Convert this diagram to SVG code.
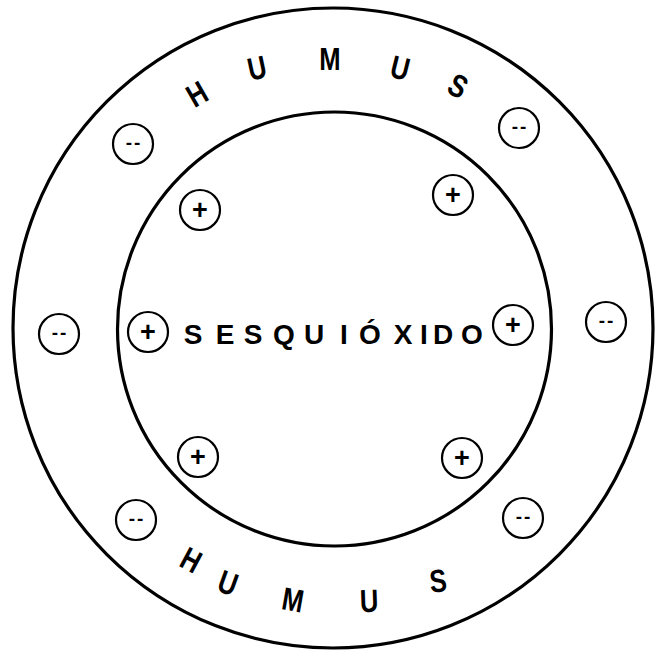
<svg xmlns="http://www.w3.org/2000/svg" width="667" height="651" viewBox="0 0 667 651">
  <style>
    .ring { fill: none; stroke: #000; stroke-width: 3.2; }
    .ion { fill: #fff; stroke: #000; stroke-width: 2.2; }
    .sign { font-family: "Liberation Sans", Arial, sans-serif; font-weight: bold; fill: #000; text-anchor: middle; }
    .plus { font-size: 27px; dominant-baseline: central; }
    .minus { font-size: 19px; letter-spacing: 2px; }
    .hum { font-family: "Liberation Sans", Arial, sans-serif; font-weight: bold; font-size: 32px; fill: #000; text-anchor: middle; }
    .core { font-family: "Liberation Sans", Arial, sans-serif; font-weight: bold; font-size: 28px; fill: #000; text-anchor: middle; }
  </style>
  <rect width="667" height="651" fill="#fff"/>

  <g id="humus-ring">
    <circle class="ring" cx="333" cy="328" r="320"/>
  </g>
  <g id="sesquioxido-core">
    <circle class="ring" cx="334.5" cy="329" r="217"/>
    <text class="core" y="344" x="193 225 253 284 314 344 370 403 424 443 472">SESQUIÓXIDO</text>
  </g>

  <g id="humus-top-label">
    <text class="hum" transform="translate(197,94) rotate(-30) scale(0.8,1)" y="11">H</text>
    <text class="hum" transform="translate(257,68) rotate(-12) scale(0.8,1)" y="11">U</text>
    <text class="hum" transform="translate(330,59) scale(0.8,1)" y="11">M</text>
    <text class="hum" transform="translate(400,68) rotate(14) scale(0.8,1)" y="11">U</text>
    <text class="hum" transform="translate(458,86) rotate(28) scale(0.8,1)" y="11">S</text>
  </g>
  <g id="humus-bottom-label">
    <text class="hum" transform="translate(191,560) rotate(28) scale(0.8,1)" y="11">H</text>
    <text class="hum" transform="translate(228,583) rotate(20) scale(0.8,1)" y="11">U</text>
    <text class="hum" transform="translate(293,600) rotate(10) scale(0.8,1)" y="11">M</text>
    <text class="hum" transform="translate(369,601) rotate(-2) scale(0.8,1)" y="11">U</text>
    <text class="hum" transform="translate(438,581) rotate(-6) scale(0.8,1)" y="11">S</text>
  </g>

  <g id="neg-tl"><circle class="ion" cx="133" cy="144" r="20"/><text class="sign minus" x="134" y="149">--</text></g>
  <g id="neg-tr"><circle class="ion" cx="519" cy="128" r="20"/><text class="sign minus" x="520" y="133">--</text></g>
  <g id="neg-l"><circle class="ion" cx="59" cy="334" r="20"/><text class="sign minus" x="60" y="339">--</text></g>
  <g id="neg-r"><circle class="ion" cx="606" cy="322" r="20"/><text class="sign minus" x="607" y="327">--</text></g>
  <g id="neg-bl"><circle class="ion" cx="136" cy="520" r="20"/><text class="sign minus" x="137" y="525">--</text></g>
  <g id="neg-br"><circle class="ion" cx="523" cy="518" r="20"/><text class="sign minus" x="524" y="523">--</text></g>

  <g id="pos-tl"><circle class="ion" cx="200" cy="210" r="20"/><text class="sign plus" x="200" y="210">+</text></g>
  <g id="pos-tr"><circle class="ion" cx="453" cy="195" r="20"/><text class="sign plus" x="453" y="195">+</text></g>
  <g id="pos-l"><circle class="ion" cx="148" cy="332" r="20"/><text class="sign plus" x="148" y="332">+</text></g>
  <g id="pos-r"><circle class="ion" cx="513" cy="325" r="20"/><text class="sign plus" x="513" y="325">+</text></g>
  <g id="pos-bl"><circle class="ion" cx="198" cy="457" r="20"/><text class="sign plus" x="198" y="457">+</text></g>
  <g id="pos-br"><circle class="ion" cx="462" cy="458" r="20"/><text class="sign plus" x="462" y="458">+</text></g>

  <g id="connectors"></g>
</svg>
